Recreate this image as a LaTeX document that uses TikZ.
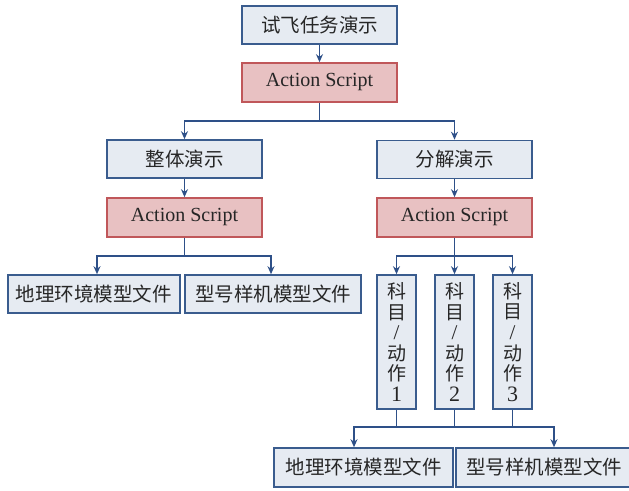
\documentclass[tikz,border=0pt]{standalone}
\usepackage{fontspec}
\setmainfont{Liberation Serif}
\newfontfamily\cjk{Noto Sans CJK SC}
\usetikzlibrary{arrows.meta}
\definecolor{bfill}{HTML}{E6EBF2}
\definecolor{bline}{HTML}{3A5C8E}
\definecolor{rfill}{HTML}{E8C1C2}
\definecolor{rline}{HTML}{C0575A}
\definecolor{aline}{HTML}{2E5088}
\tikzset{
  bbox/.style={draw=bline, fill=bfill, line width=1.6pt, inner sep=0pt, minimum height=38pt,
    font=\cjk\fontsize{19.5}{22}\selectfont, text=black!85},
  rbox/.style={draw=rline, fill=rfill, line width=1.6pt, inner sep=0pt, minimum width=155pt, minimum height=39pt,
    font=\fontsize{20}{22}\selectfont, text=black!85},
  vbox/.style={draw=bline, fill=bfill, line width=1.6pt, inner sep=0pt, minimum width=39pt, minimum height=134pt,
    align=center, font=\cjk\fontsize{19}{20.6}\selectfont, text=black!85},
  conn/.style={draw=aline, line width=1.8pt},
  arr/.style={conn, -{Stealth[length=8pt,width=7pt]}}
}
\begin{document}
\begin{tikzpicture}[x=1pt,y=-1pt]
\useasboundingbox (0,0) rectangle (629,490);
\node[bbox, minimum width=155pt] (top) at (319.5,25) {试飞任务演示};
\node[rbox] (as0) at (319.5,82.5) {Action Script};
\node[bbox, minimum width=155pt] (whole) at (184.5,159) {整体演示};
\node[bbox, minimum width=155pt] (dec) at (454.5,159.5) {分解演示};
\node[rbox] (as1) at (184.5,217.5) {Action Script};
\node[rbox] (as2) at (454.5,217.5) {Action Script};
\node[bbox, minimum width=172pt] (geo1) at (94,294) {地理环境模型文件};
\node[bbox, minimum width=176pt] (type1) at (273,294) {型号样机模型文件};
\node[vbox] (v1) at (396.5,342) {科\\目\\{\rmfamily\fontsize{21}{20.6}\selectfont /}\\动\\作\\{\rmfamily\fontsize{22}{20.6}\selectfont 1}};
\node[vbox] (v2) at (454.5,342) {科\\目\\{\rmfamily\fontsize{21}{20.6}\selectfont /}\\动\\作\\{\rmfamily\fontsize{22}{20.6}\selectfont 2}};
\node[vbox] (v3) at (512.5,342) {科\\目\\{\rmfamily\fontsize{21}{20.6}\selectfont /}\\动\\作\\{\rmfamily\fontsize{22}{20.6}\selectfont 3}};
\node[bbox, minimum width=179pt, minimum height=39pt] (geo2) at (363.5,467.5) {地理环境模型文件};
\node[bbox, minimum width=176pt, minimum height=39pt] (type2) at (544,467.5) {型号样机模型文件};

\draw[arr] (top) -- (as0);
\coordinate (j0) at ([yshift=-18]as0.south);
\draw[conn] (as0.south) -- (j0);
\draw[arr] (j0) -| (whole.north);
\draw[arr] (j0) -| (dec.north);
\draw[arr] (whole) -- (as1);
\draw[arr] (dec) -- (as2);
\coordinate (j1) at ([yshift=-18]as1.south);
\draw[conn] (as1.south) -- (j1);
\draw[arr] (j1) -| ([xshift=3]geo1.north);
\draw[arr] (j1) -| ([xshift=-2]type1.north);
\coordinate (j2) at ([yshift=-18]as2.south);
\draw[conn] (as2.south) -- (j2);
\draw[arr] (j2) -| (v1.north);
\draw[arr] (j2) -- (v2.north);
\draw[arr] (j2) -| (v3.north);
\coordinate (j3) at ([yshift=-17]v2.south);
\draw[conn] (v1.south) |- (j3);
\draw[conn] (v2.south) -- (j3);
\draw[conn] (v3.south) |- (j3);
\draw[arr] (j3) -| ([xshift=-9.5]geo2.north);
\draw[arr] (j3) -| ([xshift=10]type2.north);
\end{tikzpicture}
\end{document}
